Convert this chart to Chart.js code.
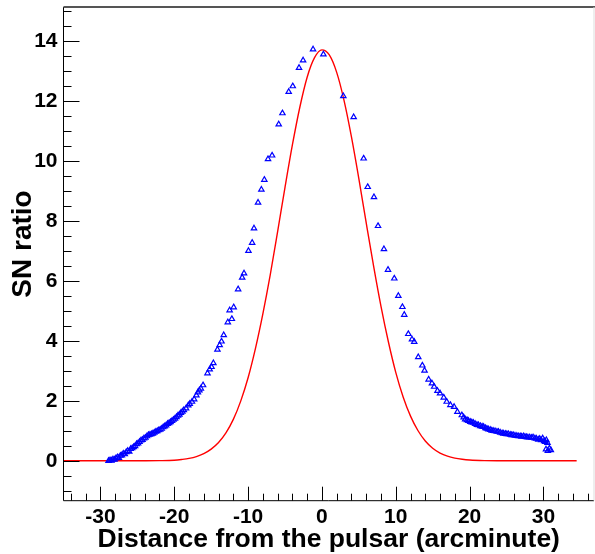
<!DOCTYPE html>
<html>
<head>
<meta charset="utf-8">
<script src="https://cdn.jsdelivr.net/npm/chart.js@4.4.1/dist/chart.umd.min.js"></script>
<style>
  html, body { margin: 0; padding: 0; background: #fff; }
  canvas { display: block; }
</style>
</head>
<body>
<canvas id="sn_ratio" width="595" height="554"></canvas>
<script>
// measured SN ratio vs distance from the pulsar (arcminute)
const distance = [
  -28.9, -28.7, -28.5, -28.3, -28.1, -27.9, -27.7, -27.5, -27.3, -27.1,
  -26.9, -26.7, -26.5, -26.3, -26.1, -25.9, -25.7, -25.5, -25.3, -25.1,
  -24.9, -24.7, -24.5, -24.3, -24.1, -23.9, -23.7, -23.5, -23.3, -23.1,
  -22.9, -22.7, -22.5, -22.3, -22.1, -21.9, -21.7, -21.5, -21.3, -21.1,
  -20.9, -20.7, -20.5, -20.3, -20.1, -19.9, -19.7, -19.5, -19.3, -19.1,
  -18.9, -18.7, -18.4, -18.1, -17.9, -17.6, -17.3, -17.0, -16.8, -16.6,
  -16.4, -16.1, -15.5, -15.2, -14.95, -14.7, -14.15, -13.85, -13.6, -13.3,
  -12.75, -12.5, -12.2, -11.95, -11.35, -10.8, -10.55, -9.95, -9.45, -9.2,
  -8.65, -8.2, -7.8, -7.3, -6.75, -5.85, -5.35, -4.5, -3.95, -3.1,
  -2.55, -1.2, 0.2, 2.9, 4.3, 5.65, 6.2, 7.05, 7.6, 8.4,
  8.95, 9.8, 10.35, 10.9, 11.15, 11.7, 12.2, 12.5, 13.05, 13.6,
  13.9, 14.45, 14.9, 15.2, 15.65, 16.0, 16.5, 16.9, 17.4, 17.9,
  18.35, 18.95, 19.2, 19.4, 19.65, 19.85, 20.1, 20.3, 20.5, 20.75,
  21.0, 21.2, 21.45, 21.7, 21.9, 22.15, 22.35, 22.55, 22.8, 23.0,
  23.2, 23.45, 23.7, 23.9, 24.15, 24.4, 24.6, 24.85, 25.05, 25.25,
  25.5, 25.7, 25.9, 26.15, 26.4, 26.6, 26.85, 27.05, 27.3, 27.5,
  27.7, 27.9, 28.15, 28.4, 28.6, 28.85, 29.05, 29.3, 29.5, 29.7,
  29.9, 30.1, 30.25, 30.4, 30.55, 30.35, 30.6, 30.8, 31.0
]
const snRatio = [
  0.00, 0.02, 0.01, 0.05, 0.04, 0.08, 0.12, 0.10, 0.17, 0.18,
  0.24, 0.22, 0.29, 0.33, 0.31, 0.40, 0.42, 0.46, 0.49, 0.56,
  0.58, 0.63, 0.68, 0.70, 0.75, 0.77, 0.82, 0.86, 0.87, 0.89,
  0.91, 0.94, 0.97, 0.99, 1.02, 1.04, 1.07, 1.12, 1.15, 1.18,
  1.23, 1.26, 1.29, 1.33, 1.37, 1.41, 1.46, 1.51, 1.54, 1.60,
  1.64, 1.69, 1.75, 1.85, 1.90, 1.97, 2.05, 2.18, 2.28, 2.35,
  2.41, 2.52, 2.92, 3.05, 3.13, 3.26, 3.71, 3.86, 3.98, 4.19,
  4.62, 5.02, 4.73, 5.12, 5.72, 6.11, 6.25, 7.00, 7.27, 7.75,
  8.61, 9.04, 9.37, 10.06, 10.18, 11.22, 11.59, 12.30, 12.49, 13.10,
  13.35, 13.72, 13.55, 12.16, 11.46, 10.08, 9.13, 8.79, 7.83, 7.06,
  6.37, 6.08, 5.50, 5.13, 4.87, 4.23, 4.05, 3.97, 3.46, 3.18,
  3.01, 2.71, 2.58, 2.47, 2.33, 2.25, 2.11, 1.97, 1.86, 1.80,
  1.63, 1.52, 1.45, 1.38, 1.36, 1.33, 1.30, 1.28, 1.27, 1.23,
  1.20, 1.19, 1.16, 1.14, 1.13, 1.09, 1.07, 1.05, 1.03, 1.01,
  1.00, 0.99, 0.97, 0.97, 0.94, 0.92, 0.91, 0.90, 0.89, 0.89,
  0.87, 0.86, 0.86, 0.84, 0.83, 0.82, 0.82, 0.81, 0.82, 0.80,
  0.79, 0.78, 0.78, 0.77, 0.78, 0.75, 0.74, 0.71, 0.73, 0.69,
  0.75, 0.66, 0.63, 0.69, 0.60, 0.38, 0.33, 0.41, 0.36
]

// fitted curve (red)
const fitX = [-35, -30, -25, -22, -20, -19, -18, -17, -16, -15, -14, -13, -12, -11, -10,
  -9, -8, -7, -6, -5, -4, -3, -2, -1, 0, 1, 2, 3, 4, 5, 6, 7, 8, 9, 10,
  11, 12, 13, 14, 15, 16, 17, 18, 19, 20, 22, 25, 30, 34.5]
const fitY = [0, 0, 0.001, 0.006, 0.02, 0.045, 0.08, 0.14, 0.24, 0.39, 0.61, 0.93, 1.38, 1.99, 2.77,
  3.75, 4.90, 6.20, 7.64, 9.12, 10.53, 11.78, 12.79, 13.44, 13.70, 13.53, 12.95, 12.01, 10.80, 9.41, 7.93, 6.49, 5.15, 3.97, 2.95,
  2.13, 1.49, 1.01, 0.66, 0.42, 0.26, 0.156, 0.09, 0.05, 0.025, 0.006, 0.001, 0, 0]

const xTicks = [-30, -20, -10, 0, 10, 20, 30]
const yTicks = [0, 2, 4, 6, 8, 10, 12, 14]
const yTitulo = 'SN ratio'

const familia = 'Liberation Sans, Arial, sans-serif'
const fuente = { family: familia, weight: 'bold', size: 21 }
const fuenteTitulo = { family: familia, weight: 'bold', size: 26.5, lineHeight: 1 }

// ROOT-like frame: ticks drawn inside the frame, y title placed by hand
const marcoRoot = {
    id: 'marcoRoot',
    afterDraw(chart) {
        const { ctx, chartArea: a } = chart
        const sx = chart.scales.x
        const sy = chart.scales.y
        ctx.save()
        ctx.lineWidth = 1
        ctx.strokeStyle = '#000'
        ctx.beginPath()
        // x: minor every 2, major every 10
        for (let v = Math.ceil(sx.min / 2) * 2; v <= sx.max; v += 2) {
            const px = Math.round(sx.getPixelForValue(v)) + 0.5
            const len = (v % 10 === 0) ? 14 : 7
            ctx.moveTo(px, a.bottom)
            ctx.lineTo(px, a.bottom - len)
        }
        // y: minor every 0.5, major every 2
        for (let v = Math.ceil(sy.min / 0.5) * 0.5; v <= sy.max; v += 0.5) {
            const py = Math.round(sy.getPixelForValue(v)) + 0.5
            const len = (Math.abs(v % 2) < 1e-6) ? 16 : 8
            ctx.moveTo(a.left, py)
            ctx.lineTo(a.left + len, py)
        }
        ctx.stroke()
        // axes
        ctx.beginPath()
        ctx.moveTo(a.left, a.top)
        ctx.lineTo(a.left, a.bottom)
        ctx.lineTo(a.right, a.bottom)
        ctx.stroke()
        // top and right border of the frame
        ctx.strokeStyle = '#555'
        ctx.lineWidth = 2
        ctx.beginPath()
        ctx.moveTo(a.left, a.top)
        ctx.lineTo(a.right + 1, a.top)
        ctx.stroke()
        ctx.strokeStyle = '#ddd'
        ctx.lineWidth = 1
        ctx.beginPath()
        ctx.moveTo(a.right, a.top)
        ctx.lineTo(a.right, a.bottom)
        ctx.stroke()
        // y title
        ctx.translate(23, 244)
        ctx.rotate(-Math.PI / 2)
        ctx.fillStyle = '#000'
        ctx.font = 'bold 28px ' + familia
        ctx.textAlign = 'center'
        ctx.textBaseline = 'middle'
        ctx.fillText(yTitulo, 0, 0)
        ctx.restore()
    }
}

const sn_ratio = document.getElementById('sn_ratio').getContext('2d')

new Chart(sn_ratio, {
    type: 'scatter',
    data: {
        datasets: [{
            label: 'ajuste',
            data: fitX.map((x, i) => ({ x: x, y: fitY[i] })),
            showLine: true,
            borderColor: '#ff0000',
            borderWidth: 1.4,
            pointRadius: 0,
            cubicInterpolationMode: 'monotone',
            order: 2
        }, {
            label: 'SN ratio',
            data: distance.map((x, i) => ({ x: x, y: snRatio[i] })),
            pointStyle: 'triangle',
            pointRadius: 3.1,
            borderWidth: 1.2,
            borderColor: '#0000ff',
            backgroundColor: 'rgba(0,0,0,0)',
            order: 1
        }]
    },
    options: {
        responsive: false,
        animation: false,
        devicePixelRatio: 1,
        layout: { autoPadding: false, padding: { top: 7, right: 1, left: 0, bottom: 0 } },
        scales: {
            x: {
                type: 'linear',
                min: -35,
                max: 36.85,
                afterBuildTicks: (s) => { s.ticks = xTicks.map(v => ({ value: v })) },
                afterFit: (s) => { s.height = 53.3; s.paddingLeft = 0; s.paddingRight = 0 },
                grid: { display: false, drawTicks: false },
                border: { display: false },
                ticks: { font: fuente, color: '#000', padding: 4, maxRotation: 0, autoSkip: false },
                title: {
                    display: true,
                    text: 'Distance from the pulsar (arcminute)',
                    font: fuenteTitulo,
                    color: '#000',
                    padding: { top: 0, bottom: 1 }
                }
            },
            y: {
                type: 'linear',
                min: -1.33,
                max: 15.13,
                afterBuildTicks: (s) => { s.ticks = yTicks.map(v => ({ value: v })) },
                afterFit: (s) => { s.width = 63.5; s.paddingTop = 0; s.paddingBottom = 0 },
                grid: { display: false, drawTicks: false },
                border: { display: false },
                ticks: { font: fuente, color: '#000', padding: 6, autoSkip: false },
                title: { display: false }
            }
        },
        plugins: {
            legend: { display: false },
            tooltip: { enabled: false }
        }
    },
    plugins: [marcoRoot]
});
</script>
</body>
</html>
